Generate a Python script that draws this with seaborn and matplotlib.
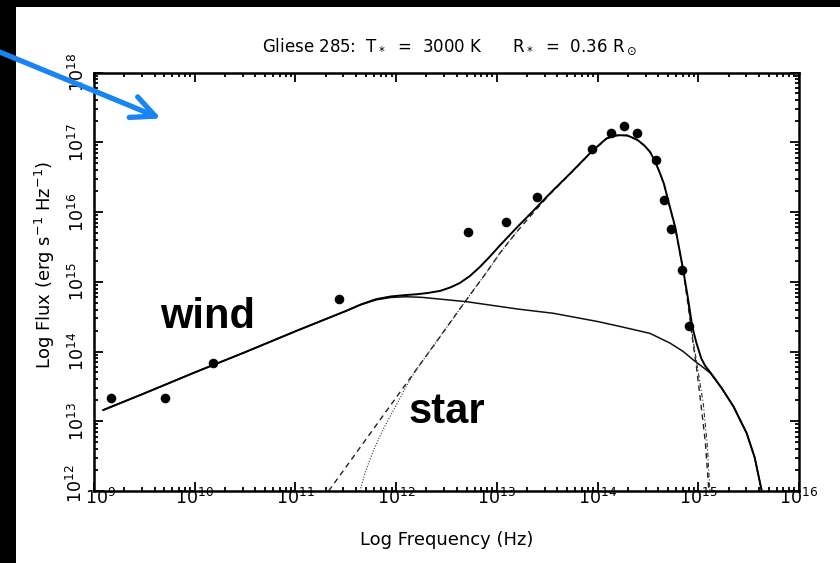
import numpy as np
import pandas as pd
import matplotlib
matplotlib.use("Agg")
import matplotlib.pyplot as plt
import matplotlib.transforms as mtransforms
import seaborn as sns
from matplotlib.ticker import LogLocator, NullFormatter
from matplotlib.patches import Rectangle, FancyArrowPatch

# ---------------- data (log10 values) ----------------
obs_lognu = [9.17, 9.70, 10.18, 11.43, 12.71, 13.09, 13.40, 13.94, 14.13, 14.26,
             14.39, 14.58, 14.66, 14.73, 14.84, 14.91]
obs_logF = [13.33, 13.33, 13.84, 14.75, 15.71, 15.86, 16.21, 16.91, 17.13, 17.24,
            17.13, 16.74, 16.17, 15.76, 15.17, 14.36]

wind_lognu = [9.09, 9.5, 10.0, 10.5, 11.0, 11.5, 11.65, 11.8, 11.95, 12.1, 12.25,
              12.7, 13.2, 13.56, 14.0, 14.22, 14.52, 14.72, 14.85, 14.95, 15.05,
              15.12, 15.23, 15.35, 15.48, 15.56, 15.63]
wind_logF = [13.16, 13.40, 13.70, 13.99, 14.29, 14.58, 14.67, 14.74, 14.775, 14.785,
             14.777, 14.714, 14.61, 14.548, 14.43, 14.36, 14.26, 14.12, 14.0, 13.88,
             13.77, 13.69, 13.48, 13.21, 12.83, 12.48, 12.0]

star_lognu = [11.33, 11.7, 12.0, 12.37, 12.684, 12.9, 13.03, 13.2, 13.35, 13.53,
              13.73, 13.94, 14.09, 14.19, 14.29, 14.39, 14.46, 14.52, 14.57, 14.62,
              14.66, 14.70, 14.77, 14.85, 14.90, 14.94, 14.98, 15.03, 15.07, 15.105]
star_logF = [12.0, 12.74, 13.34, 14.08, 14.714, 15.14, 15.41, 15.72, 15.97, 16.26,
             16.55, 16.86, 17.05, 17.095, 17.095, 17.035, 16.955, 16.86, 16.73, 16.55,
             16.395, 16.165, 15.78, 15.16, 14.65, 14.2, 13.8, 13.2, 12.7, 12.0]

dotlo_lognu = [11.64, 11.70, 11.78, 11.86, 11.94, 12.02, 12.10, 12.2, 12.37, 12.684,
               12.9, 13.03, 13.2]
dotlo_logF = [12.0, 12.3, 12.6, 12.85, 13.07, 13.28, 13.50, 13.74, 14.08, 14.714,
              15.14, 15.41, 15.72]
dothi_lognu = [14.90, 14.95, 15.0, 15.05, 15.09, 15.115]
dothi_logF = [14.68, 14.15, 13.7, 13.25, 12.65, 12.0]

total_lognu = [9.09, 9.5, 10.0, 10.5, 11.0, 11.5, 11.65, 11.8, 11.95, 12.1, 12.2,
               12.32, 12.44, 12.54, 12.63, 12.73, 12.83, 12.93, 13.03, 13.2, 13.35,
               13.53, 13.73, 13.94, 14.09, 14.19, 14.29, 14.39, 14.46, 14.52, 14.57,
               14.62, 14.66, 14.70, 14.77, 14.85, 14.90, 14.94, 14.98, 15.03, 15.07,
               15.12, 15.23, 15.35, 15.48, 15.56, 15.63]
total_logF = [13.16, 13.40, 13.70, 13.99, 14.29, 14.58, 14.675, 14.75, 14.79, 14.81,
              14.82, 14.84, 14.87, 14.92, 14.98, 15.08, 15.21, 15.36, 15.52, 15.78,
              16.0, 16.27, 16.555, 16.865, 17.057, 17.10, 17.10, 17.04, 16.96, 16.865,
              16.73, 16.555, 16.40, 16.17, 15.79, 15.17, 14.74, 14.36, 14.13, 13.90,
              13.79, 13.70, 13.48, 13.21, 12.83, 12.48, 12.0]

x_tick_exp = [9, 10, 11, 12, 13, 14, 15, 16]
y_tick_exp = [12, 13, 14, 15, 16, 17, 18]

title_text = r"Gliese 285:  T$_*$  =  3000 K      R$_*$  =  0.36 R$_\odot$"
xlabel_text = "Log Frequency (Hz)"
ylabel_text = r"Log Flux (erg s$^{-1}$ Hz$^{-1}$)"

# ---------------- style ----------------
sns.set_theme(style="ticks")
plt.rcParams["font.family"] = ["DejaVu Sans"]
plt.rcParams["mathtext.fontset"] = "dejavusans"

W, H = 840, 563
fig = plt.figure(figsize=(W / 100, H / 100), dpi=100, facecolor="black")
fig.add_artist(Rectangle((16 / W, 0), 1 - 16 / W, 1 - 7 / H, transform=fig.transFigure,
                         facecolor="white", edgecolor="none", zorder=-10))
ax = fig.add_axes([94 / W, 1 - 491 / H, (799 - 94) / W, (491 - 72.5) / H])
ax.set_facecolor("white")
ax.set_xscale("log")
ax.set_yscale("log")


def frame(lx, ly):
    return pd.DataFrame({"nu": 10 ** np.asarray(lx, float), "F": 10 ** np.asarray(ly, float)})


sns.lineplot(data=frame(star_lognu, star_logF), x="nu", y="F", ax=ax, color="#222222",
             lw=1.0, linestyle=(0, (4, 3)), sort=False, estimator=None, zorder=2)
sns.lineplot(data=frame(dotlo_lognu, dotlo_logF), x="nu", y="F", ax=ax, color="#333333",
             lw=0.8, linestyle=(0, (1, 1.5)), sort=False, estimator=None, zorder=2)
sns.lineplot(data=frame(dothi_lognu, dothi_logF), x="nu", y="F", ax=ax, color="#333333",
             lw=0.8, linestyle=(0, (4, 2, 1, 2)), sort=False, estimator=None, zorder=2)
sns.lineplot(data=frame(wind_lognu, wind_logF), x="nu", y="F", ax=ax, color="#111111",
             lw=1.1, sort=False, estimator=None, zorder=3)
sns.lineplot(data=frame(total_lognu, total_logF), x="nu", y="F", ax=ax, color="black",
             lw=1.4, sort=False, estimator=None, zorder=4)
obs = frame(obs_lognu, obs_logF)
sns.scatterplot(data=obs, x="nu", y="F", ax=ax, color="black", s=48, linewidth=0, zorder=5)

ax.set_xlim(10.0 ** x_tick_exp[0], 10.0 ** x_tick_exp[-1])
ax.set_ylim(10.0 ** y_tick_exp[0], 10.0 ** y_tick_exp[-1])
ax.set_xlabel("")
ax.set_ylabel("")

ax.set_xticks([10.0 ** e for e in x_tick_exp], labels=[r"$10^{%d}$" % e for e in x_tick_exp])
ax.set_yticks([10.0 ** e for e in y_tick_exp], labels=[r"$10^{%d}$" % e for e in y_tick_exp])
ax.xaxis.set_minor_locator(LogLocator(base=10, subs=np.arange(2, 10), numticks=100))
ax.yaxis.set_minor_locator(LogLocator(base=10, subs=np.arange(2, 10), numticks=100))
ax.xaxis.set_minor_formatter(NullFormatter())
ax.yaxis.set_minor_formatter(NullFormatter())

ax.tick_params(which="both", direction="in", top=True, right=True, width=1.3, color="black")
ax.tick_params(which="major", length=6.5)
ax.tick_params(which="minor", length=3.2)
ax.tick_params(axis="x", which="major", pad=-2.5, labelsize=12.5, labelcolor="black")
ax.tick_params(axis="y", which="major", pad=4.5, labelsize=12.5, labelcolor="black", labelrotation=90)
for sp in ax.spines.values():
    sp.set_linewidth(1.8)
    sp.set_color("black")

# corner labels: nudge apart slightly so 10^9 and 10^12 do not collide
ylabs = ax.get_yticklabels()
for lab in ylabs:
    lab.set_va("center")
xlabs = ax.get_xticklabels()
xlabs[0].set_transform(xlabs[0].get_transform()
                       + mtransforms.ScaledTranslation(7 / 100, 0, fig.dpi_scale_trans))
ylabs[0].set_transform(ylabs[0].get_transform()
                       + mtransforms.ScaledTranslation(-2 / 100, 7 / 100, fig.dpi_scale_trans))

fig.text(449 / W, 1 - 52 / H, title_text, ha="center", va="baseline", fontsize=12, color="black")
fig.text(447 / W, 1 - 540 / H, xlabel_text, ha="center", va="center", fontsize=13, color="black")
fig.text(45 / W, 1 - 265 / H, ylabel_text, ha="center", va="center", rotation=90,
         fontsize=13, color="black")

ax.text(10 ** 10.132, 10 ** 14.337, "wind", ha="center", va="baseline", fontsize=30,
        fontweight="bold", family="Liberation Sans", color="black", zorder=6)
ax.text(10 ** 12.505, 10 ** 12.975, "star", ha="center", va="baseline", fontsize=30,
        fontweight="bold", family="Liberation Sans", color="black", zorder=6)

arrow = FancyArrowPatch(posA=(-10 / W, 1 - 48 / H), posB=(161 / W, 1 - 118.5 / H),
                        transform=fig.transFigure,
                        arrowstyle="->,head_length=17,head_width=8", mutation_scale=1,
                        color="#1A84F2", lw=3.8, shrinkA=0, shrinkB=0, zorder=10,
                        capstyle="round", joinstyle="round")
fig.add_artist(arrow)

fig.savefig("out.png", dpi=100, facecolor=fig.get_facecolor())
